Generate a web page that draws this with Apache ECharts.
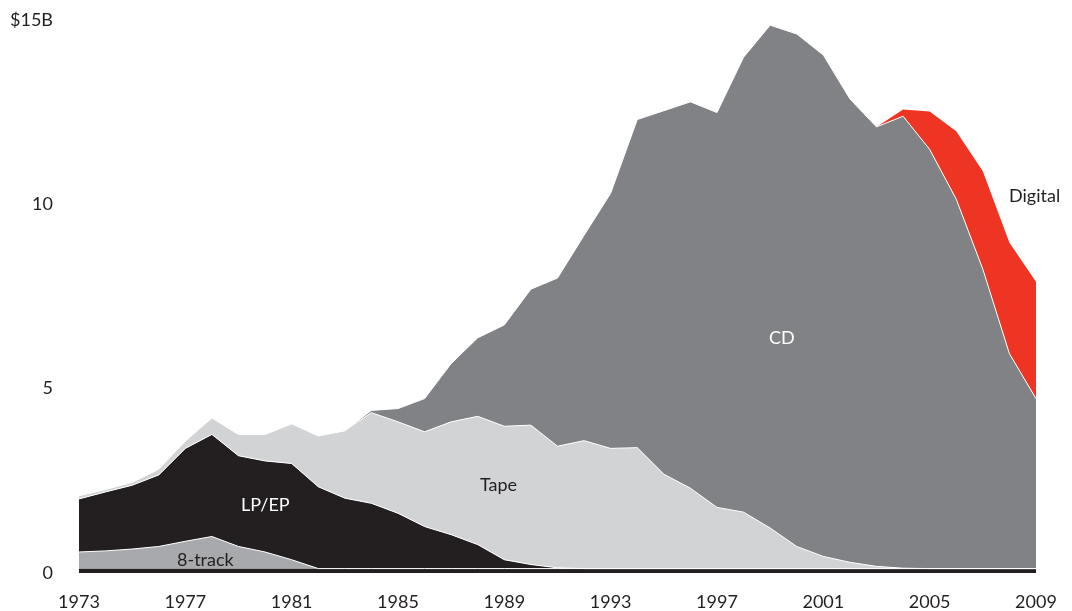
<!DOCTYPE html>
<html>
<head>
<meta charset="utf-8">
<script src="https://cdn.jsdelivr.net/npm/echarts@6/dist/echarts.min.js"></script>
<style>
  html, body { margin: 0; padding: 0; background: #fff; }
  #chart { width: 1072px; height: 611px; }
</style>
</head>
<body>
<div id="chart"></div>
<script>
  // years 1973 - 2009, revenue in $B
  var years = ['1973', '1974', '1975', '1976', '1977', '1978', '1979', '1980', '1981', '1982',
    '1983', '1984', '1985', '1986', '1987', '1988', '1989', '1990', '1991', '1992',
    '1993', '1994', '1995', '1996', '1997', '1998', '1999', '2000', '2001', '2002',
    '2003', '2004', '2005', '2006', '2007', '2008', '2009']

  var other = [0.12, 0.12, 0.12, 0.12, 0.12, 0.12, 0.12, 0.12, 0.12, 0.12,
    0.12, 0.12, 0.12, 0.12, 0.12, 0.12, 0.12, 0.12, 0.12, 0.12,
    0.12, 0.12, 0.12, 0.12, 0.12, 0.12, 0.12, 0.12, 0.12, 0.12,
    0.12, 0.12, 0.12, 0.12, 0.12, 0.12, 0.12]

  var eightTrack = [0.45, 0.48, 0.53, 0.6, 0.74, 0.87, 0.6, 0.45, 0.24, 0,
    0, 0, 0, 0, 0, 0, 0, 0, 0, 0,
    0, 0, 0, 0, 0, 0, 0, 0, 0, 0,
    0, 0, 0, 0, 0, 0, 0]

  var lpEp = [1.44, 1.6, 1.73, 1.94, 2.52, 2.77, 2.46, 2.47, 2.61, 2.22,
    1.91, 1.77, 1.5, 1.14, 0.92, 0.65, 0.24, 0.11, 0.02, 0,
    0, 0, 0, 0, 0, 0, 0, 0, 0, 0,
    0, 0, 0, 0, 0, 0, 0]

  var tape = [0.09, 0.07, 0.08, 0.16, 0.2, 0.45, 0.58, 0.72, 1.08, 1.38,
    1.83, 2.46, 2.48, 2.57, 3.06, 3.48, 3.62, 3.78, 3.3, 3.47,
    3.26, 3.28, 2.56, 2.18, 1.66, 1.53, 1.1, 0.6, 0.33, 0.17,
    0.06, 0.01, 0, 0, 0, 0, 0]

  var cd = [0, 0, 0, 0, 0, 0, 0, 0, 0, 0,
    0, 0.06, 0.36, 0.9, 1.58, 2.13, 2.75, 3.69, 4.56, 5.57,
    6.92, 8.9, 9.86, 10.48, 10.71, 12.34, 13.64, 13.9, 13.6, 12.57,
    11.92, 12.26, 11.37, 10.02, 8.12, 5.83, 4.61]

  var digital = [0, 0, 0, 0, 0, 0, 0, 0, 0, 0,
    0, 0, 0, 0, 0, 0, 0, 0, 0, 0,
    0, 0, 0, 0, 0, 0, 0, 0, 0, 0,
    0, 0.18, 1.03, 1.84, 2.66, 3.01, 3.17]

  var yTicks = [0, 5, 10, 15]

  function layer(name, data, color, withLine) {
    return {
      name: name,
      type: 'line',
      stack: 'total',
      data: data,
      symbol: 'none',
      smooth: false,
      lineStyle: withLine ? { color: '#ffffff', width: 1 } : { width: 0 },
      areaStyle: { color: color, opacity: 1 },
      emphasis: { disabled: true }
    }
  }

  function label(text, x, y, color) {
    return {
      type: 'text',
      left: x,
      top: y,
      z: 100,
      style: { text: text, fill: color, font: '18px Lato' }
    }
  }

  var chart = echarts.init(document.getElementById('chart'))
  chart.setOption({
    animation: false,
    textStyle: { fontFamily: 'Lato' },
    grid: { left: 79, right: 36, top: 20, bottom: 36 },
    xAxis: {
      type: 'category',
      data: years,
      boundaryGap: false,
      axisLine: { show: false },
      axisTick: { show: false },
      axisLabel: {
        interval: 3,
        margin: 20,
        color: '#231f20',
        fontSize: 18,
        fontFamily: 'Lato'
      }
    },
    yAxis: {
      type: 'value',
      min: yTicks[0],
      max: yTicks[yTicks.length - 1],
      interval: 5,
      splitLine: { show: false },
      axisLine: { show: false },
      axisTick: { show: false },
      axisLabel: {
        margin: 26,
        color: '#231f20',
        fontSize: 18,
        fontFamily: 'Lato',
        formatter: function (v) {
          return v === 15 ? '$15B' : String(v)
        }
      }
    },
    series: [
      layer('Other', other, '#231f20', false),
      layer('8-track', eightTrack, '#a7a9ac', true),
      layer('LP/EP', lpEp, '#231f20', true),
      layer('Tape', tape, '#d1d3d4', true),
      layer('CD', cd, '#808285', true),
      layer('Digital', digital, '#ee3524', false)
    ],
    graphic: [
      label('LP/EP', 241, 496, '#ffffff'),
      label('8-track', 177, 551, '#231f20'),
      label('Tape', 480, 476, '#231f20'),
      label('CD', 769, 329, '#ffffff'),
      label('Digital', 1009, 187, '#231f20')
    ]
  })
</script>
</body>
</html>
